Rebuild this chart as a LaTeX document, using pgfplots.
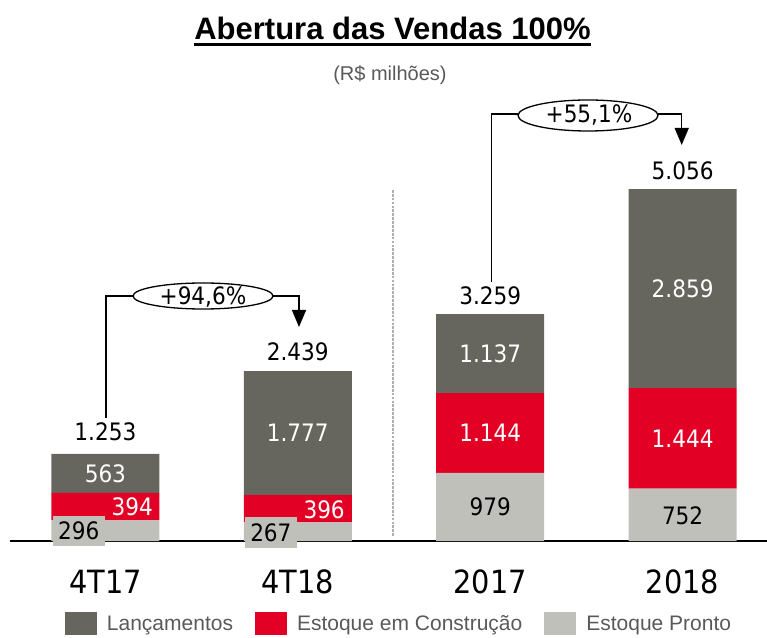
\documentclass[border=0pt]{standalone}
\usepackage{pgfplots}
\pgfplotsset{compat=1.18}
\usepackage{fontspec}
\setmainfont{Liberation Sans}
\newfontfamily\numfont{DejaVu Sans Condensed}
\usetikzlibrary{arrows.meta}
\definecolor{cDark}{RGB}{102,102,94}
\definecolor{cRed}{RGB}{226,0,36}
\definecolor{cLight}{RGB}{192,192,187}
\definecolor{legtext}{RGB}{89,89,89}
\definecolor{sepgray}{RGB}{175,175,175}
\tikzset{vl/.style={font=\numfont\fontsize{24}{28}\selectfont, inner sep=0pt},
         bx/.style={vl, fill=cLight, inner xsep=5.5pt, inner ysep=6.3pt}}
\begin{document}
\begin{tikzpicture}
\useasboundingbox (0,0) rectangle (767pt,637pt);
\begin{axis}[
  x=192.4pt, y=0.0696pt,
  anchor=south west, at={(10pt,96pt)},
  xmin=-0.4958, xmax=3.4387, ymin=0, ymax=7000,
  clip=false,
  axis x line=bottom, axis y line=none,
  x axis line style={-, line width=1.5pt, black},
  ytick=\empty,
  xtick={0,1,2,3}, xticklabels={4T17,4T18,2017,2018},
  major tick length=0pt,
  xticklabel style={font=\numfont\fontsize{32}{36}\selectfont, anchor=base, yshift=-52pt},
  ybar stacked, bar width=108pt,
  reverse legend,
  legend image code/.code={\fill[#1] (0pt,-11.5pt) rectangle (32pt,11.5pt);},
  legend style={at={(axis cs:1.521,-1192)}, anchor=center, draw=none, fill=none,
    inner sep=0pt, legend columns=3,
    font=\fontsize{21}{24}\selectfont\color{legtext},
    nodes={inner sep=0pt},
    /tikz/every odd column/.append style={column sep=10pt},
    /tikz/every even column/.append style={column sep=22pt}},
]
\addplot[fill=cLight, draw=none] coordinates {(0,296) (1,267) (2,979) (3,752)};
\addlegendentry{Estoque Pronto}
\addplot[fill=cRed, draw=none] coordinates {(0,394) (1,396) (2,1144) (3,1444)};
\addlegendentry{Estoque em Construção}
\addplot[fill=cDark, draw=none] coordinates {(0,563) (1,1777) (2,1137) (3,2859)};
\addlegendentry{Lançamentos}

% label anchor points
\coordinate (a1) at (axis cs:0,960);
\coordinate (a2) at (axis cs:0.248,488);
\coordinate (a3) at (axis cs:-0.138,145);
\coordinate (b1) at (axis cs:1,1551);
\coordinate (b2) at (axis cs:1.245,445);
\coordinate (b3) at (axis cs:0.86,122);
\coordinate (c1) at (axis cs:2,489);
\coordinate (c2) at (axis cs:2,1551);
\coordinate (c3) at (axis cs:2,2691);
\coordinate (d1) at (axis cs:3,360);
\coordinate (d2) at (axis cs:3,1474);
\coordinate (d3) at (axis cs:3,3625);
\coordinate (t1) at (axis cs:0,1451);
\coordinate (t2) at (axis cs:1,2600);
\coordinate (t3) at (axis cs:2,3391);
\coordinate (t4) at (axis cs:3,5187);
\end{axis}

% segment labels
\node[vl, text=white] at (a1) {563};
\node[vl, text=white, anchor=east] at (a2) {394};
\node[bx] at (a3) {296};
\node[vl, text=white] at (b1) {1.777};
\node[vl, text=white, anchor=east] at (b2) {396};
\node[bx] at (b3) {267};
\node[vl] at (c1) {979};
\node[vl, text=white] at (c2) {1.144};
\node[vl, text=white] at (c3) {1.137};
\node[vl] at (d1) {752};
\node[vl, text=white] at (d2) {1.444};
\node[vl, text=white] at (d3) {2.859};
% totals
\node[vl, anchor=base] at (t1) {1.253};
\node[vl, anchor=base] at (t2) {2.439};
\node[vl, anchor=base] at (t3) {3.259};
\node[vl, anchor=base] at (t4) {5.056};

\begin{scope}[x=1pt, y=-1pt, shift={(0pt,637pt)}]
  % title
  \node[anchor=base, inner sep=0pt, font=\bfseries\fontsize{31}{36}\selectfont] (T) at (392.5,40) {Abertura das Vendas 100\%};
  \draw[line width=2.4pt] ([yshift=-4.5pt]T.base west) -- ([yshift=-4.5pt]T.base east);
  \node[anchor=base, inner sep=0pt, font=\fontsize{20}{24}\selectfont, text=legtext] at (390,81) {(R\$ milhões)};
  % separator
  \draw[sepgray, line width=2pt, dash pattern=on 2.7pt off 1.2pt] (393,190) -- (393,537);
  % annotation 1
  \draw[line width=1.3pt] (106,418) -- (106,296) -- (133,296);
  \draw[line width=1.3pt] (203,296) ellipse [x radius=70pt, y radius=13pt];
  \node[vl, anchor=base] at (203,305) {+94,6\%};
  \draw[line width=1.3pt, -{Triangle[length=17pt,width=14pt]}] (273,296) -- (299,296) -- (299,327);
  % annotation 2
  \draw[line width=1.3pt] (491.7,282) -- (491.7,114) -- (518,114);
  \draw[line width=1.3pt] (588,115.5) ellipse [x radius=70pt, y radius=15.5pt];
  \node[vl, anchor=base] at (589,123) {+55,1\%};
  \draw[line width=1.3pt, -{Triangle[length=17pt,width=14pt]}] (658,114) -- (681.7,114) -- (681.7,145);
\end{scope}
\end{tikzpicture}
\end{document}
